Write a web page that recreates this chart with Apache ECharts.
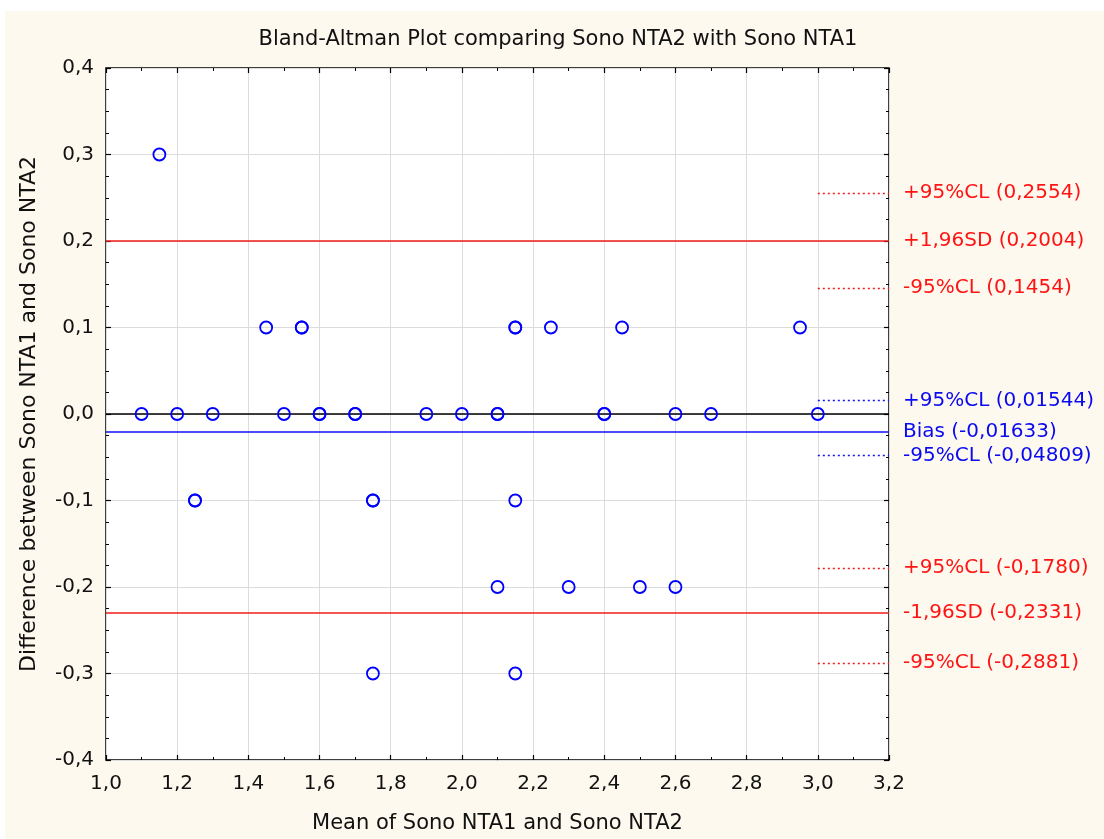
<!DOCTYPE html>
<html>
<head>
<meta charset="utf-8">
<script src="https://cdn.jsdelivr.net/npm/echarts@6/dist/echarts.min.js"></script>
<style>
html,body{margin:0;padding:0;background:#fff;}
#bg{position:absolute;left:5px;top:11px;right:0;bottom:0;background:#FEF9EE;}
#chart{position:absolute;left:0;top:0;width:1104px;height:839px;}
</style>
</head>
<body>
<div id="bg"></div>
<div id="chart"></div>
<script>
// ---- data ----
const titleText = 'Bland-Altman Plot comparing Sono NTA2 with Sono NTA1';
const xName = 'Mean of Sono NTA1 and Sono NTA2';
const yName = 'Difference between Sono NTA1 and Sono NTA2';
const xRange = [1.0, 3.2];
const yRange = [-0.4, 0.4];

// mean of the two measurements (x) and their difference (y)
const meanVals = [1.15,
  1.45, 1.55, 1.55, 2.15, 2.15, 2.25, 2.45, 2.95,
  1.10, 1.20, 1.30, 1.50, 1.60, 1.60, 1.70, 1.70, 1.90, 2.00, 2.10, 2.10, 2.40, 2.40, 2.60, 2.70, 3.00,
  1.25, 1.25, 1.75, 1.75, 2.15,
  2.10, 2.30, 2.50, 2.60,
  1.75, 2.15];
const diffVals = [0.3,
  0.1, 0.1, 0.1, 0.1, 0.1, 0.1, 0.1, 0.1,
  0, 0, 0, 0, 0, 0, 0, 0, 0, 0, 0, 0, 0, 0, 0, 0, 0,
  -0.1, -0.1, -0.1, -0.1, -0.1,
  -0.2, -0.2, -0.2, -0.2,
  -0.3, -0.3];

// limits (solid, full width)
const limitVals   = [0.2004, -0.01633, -0.2331];
const limitLabels = ['+1,96SD (0,2004)', 'Bias (-0,01633)', '-1,96SD (-0,2331)'];
const limitKinds  = ['red', 'blue', 'red'];

// confidence limits (dotted, short)
const clVals   = [0.2554, 0.1454, 0.01544, -0.04809, -0.1780, -0.2881];
const clLabels = ['+95%CL (0,2554)', '-95%CL (0,1454)', '+95%CL (0,01544)', '-95%CL (-0,04809)', '+95%CL (-0,1780)', '-95%CL (-0,2881)'];
const clKinds  = ['red', 'red', 'blue', 'blue', 'red', 'red'];
const clSpan   = [3.0, 3.2];

// ---- styling ----
const FONT = 'DejaVu Sans';
const RED = '#F21B1B', RED_TXT = '#FF1414';
const BLUE = '#1010F5', BLUE_TXT = '#0A0AF0';
const colorOf = k => k === 'red' ? RED : BLUE;
const txtOf = k => k === 'red' ? RED_TXT : BLUE_TXT;
const fmt = v => v.toFixed(1).replace('.', ',');

const points = meanVals.map((m, i) => [m, diffVals[i]]);

const lineData = [];
lineData.push({ yAxis: 0, lineStyle: { color: '#000', width: 1.5, type: 'solid' }, label: { show: false } });
limitVals.forEach((v, i) => lineData.push({
  yAxis: v,
  lineStyle: { color: colorOf(limitKinds[i]), width: 1.5, type: 'solid' },
  label: { show: true, position: 'end', distance: 14, formatter: limitLabels[i], color: txtOf(limitKinds[i]), fontFamily: FONT, fontSize: 20 }
}));
clVals.forEach((v, i) => lineData.push([
  { coord: [clSpan[0], v], lineStyle: { color: colorOf(clKinds[i]), width: 1.4, type: [2, 3] },
    label: { show: true, position: 'end', distance: 14, formatter: clLabels[i], color: txtOf(clKinds[i]), fontFamily: FONT, fontSize: 20 } },
  { coord: [clSpan[1], v] }
]));

const tickStyle = { show: true, inside: true, length: 5, lineStyle: { color: '#000', width: 1.2 } };
const minorStyle = (n) => ({ show: true, splitNumber: n, length: 3, lineStyle: { color: '#000', width: 1 } });

const option = {
  animation: false,
  backgroundColor: 'transparent',
  graphic: [{
    type: 'text', x: 558, y: 40,
    style: { text: titleText, textAlign: 'center', textVerticalAlign: 'middle', font: '21px "DejaVu Sans"', fill: '#111' }
  }],
  grid: { left: 106, top: 68, right: 215, bottom: 77, show: true, backgroundColor: '#fff', borderColor: '#000', borderWidth: 1.5 },
  xAxis: [{
    type: 'value', min: xRange[0], max: xRange[1], interval: 0.2, position: 'bottom',
    name: xName, nameLocation: 'middle', nameGap: 53,
    nameTextStyle: { fontFamily: FONT, fontSize: 21, color: '#111' },
    axisLine: { show: false, onZero: false },
    axisTick: tickStyle, minorTick: minorStyle(2),
    axisLabel: { margin: 14, fontFamily: FONT, fontSize: 20, color: '#111', formatter: fmt },
    splitLine: { show: true, lineStyle: { color: '#DCDCDC', width: 1 } }
  }, {
    type: 'value', min: xRange[0], max: xRange[1], interval: 0.2, position: 'top',
    axisLine: { show: false, onZero: false }, axisTick: tickStyle, minorTick: minorStyle(2),
    axisLabel: { show: false }, splitLine: { show: false }
  }],
  yAxis: [{
    type: 'value', min: yRange[0], max: yRange[1], interval: 0.1, position: 'left',
    name: yName, nameLocation: 'middle', nameGap: 66,
    nameTextStyle: { fontFamily: FONT, fontSize: 22, color: '#111' },
    axisLine: { show: false, onZero: false },
    axisTick: tickStyle, minorTick: minorStyle(4),
    axisLabel: { margin: 12, fontFamily: FONT, fontSize: 20, color: '#111', formatter: fmt },
    splitLine: { show: true, lineStyle: { color: '#DCDCDC', width: 1 } }
  }, {
    type: 'value', min: yRange[0], max: yRange[1], interval: 0.1, position: 'right',
    axisLine: { show: false, onZero: false }, axisTick: tickStyle, minorTick: minorStyle(4),
    axisLabel: { show: false }, splitLine: { show: false }
  }],
  series: [{
    type: 'line', data: [], xAxisIndex: 0, yAxisIndex: 0,
    markLine: { silent: true, symbol: ['none', 'none'], data: lineData, z: 3 }
  }, {
    type: 'scatter', data: points, xAxisIndex: 0, yAxisIndex: 0, z: 5,
    symbol: 'circle', symbolSize: 12,
    itemStyle: { color: 'rgba(0,0,0,0)', borderColor: '#0000FF', borderWidth: 1.8, opacity: 1 }
  }]
};

const chart = echarts.init(document.getElementById('chart'), null, { renderer: 'canvas' });
chart.setOption(option);
</script>
</body>
</html>
